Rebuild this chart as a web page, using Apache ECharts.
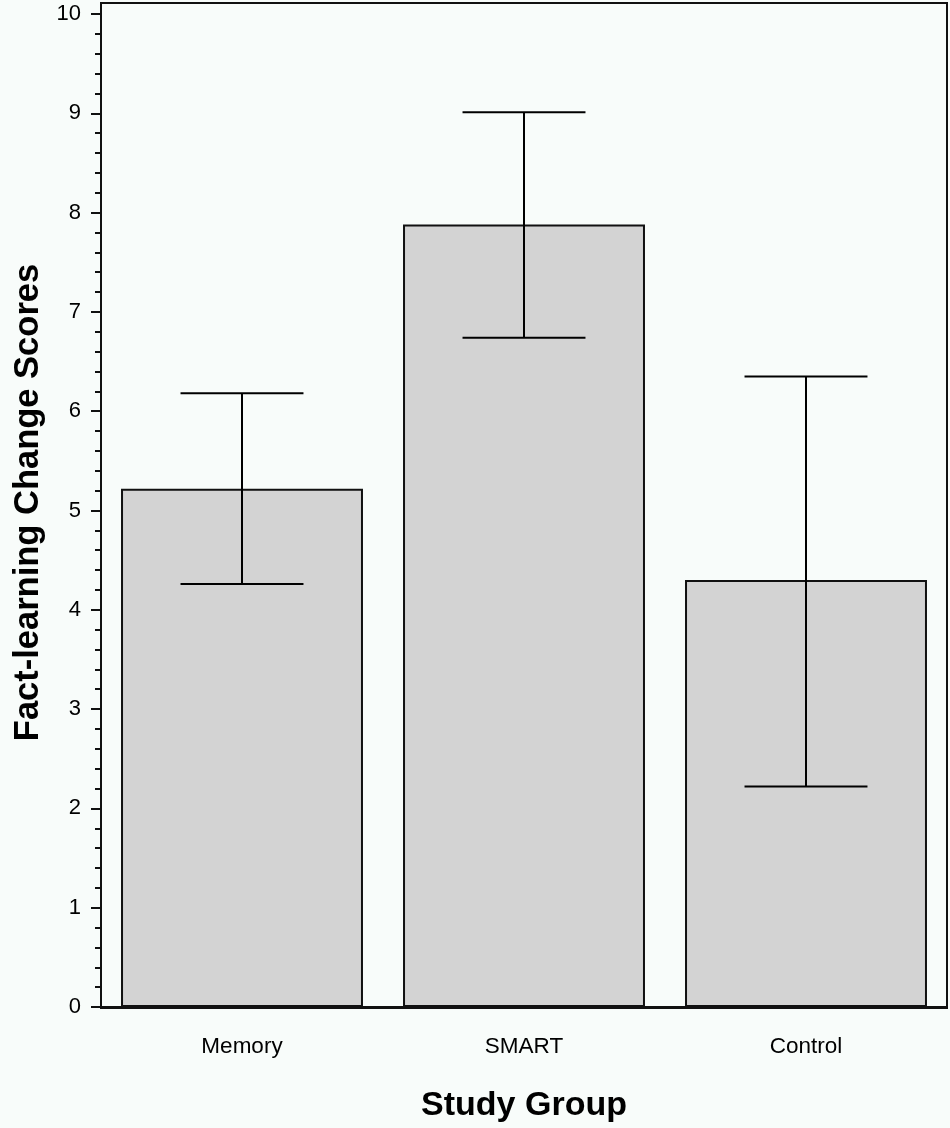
<!DOCTYPE html>
<html>
<head>
<meta charset="utf-8">
<script src="https://cdn.jsdelivr.net/npm/echarts@6/dist/echarts.min.js"></script>
<style>
	html, body { margin: 0; padding: 0; background: #f8fcfa; }
	#chartId { width: 950px; height: 1128px; }
</style>
</head>
<body>
<div id="chartId"></div>
<script>
// data
var groupNames = ["Memory", "SMART", "Control"];
var meanScores = [5.22, 7.88, 4.30];
var upperScores = [6.18, 9.01, 6.35];
var lowerScores = [4.26, 6.74, 2.22];
var yTickValues = [0, 1, 2, 3, 4, 5, 6, 7, 8, 9, 10];

var errData = [];
for(var i = 0; i < groupNames.length; i++) {
	errData.push([i, lowerScores[i], upperScores[i]]);
}

var myChart = echarts.init(document.getElementById("chartId"));

function renderErr(params, api) {
	var x = api.value(0);
	var lo = api.coord([x, api.value(1)]);
	var hi = api.coord([x, api.value(2)]);
	var halfW = api.size([1, 0])[0] * 0.218;
	var style = { stroke: '#000', lineWidth: 2 };
	return {
		type: 'group',
		children: [
			{ type: 'line', shape: { x1: hi[0], y1: hi[1], x2: lo[0], y2: lo[1] }, style: style },
			{ type: 'line', shape: { x1: hi[0] - halfW, y1: hi[1], x2: hi[0] + halfW, y2: hi[1] }, style: style },
			{ type: 'line', shape: { x1: lo[0] - halfW, y1: lo[1], x2: lo[0] + halfW, y2: lo[1] }, style: style }
		]
	};
}

var option = {
	backgroundColor: '#f8fcfa',
	animation: false,
	grid: [{
		// frame
		left: 101, right: 3, top: 3, bottom: 120,
		show: true,
		borderColor: '#111',
		borderWidth: 2
	}, {
		left: 101, right: 3, top: 14, bottom: 120
	}],
	xAxis: [{
		gridIndex: 0, type: 'value', show: false, min: 0, max: 1
	}, {
		gridIndex: 1,
		type: 'category',
		data: groupNames,
		name: 'Study Group',
		nameLocation: 'middle',
		nameGap: 82,
		nameTextStyle: { fontFamily: 'Liberation Sans', fontWeight: 'bold', fontSize: 34, color: '#000' },
		axisLine: { show: true, lineStyle: { color: '#111', width: 2 } },
		axisTick: { show: false },
		axisLabel: { margin: 28, fontFamily: 'Liberation Sans', fontSize: 22.5, color: '#000' }
	}],
	yAxis: [{
		gridIndex: 0, type: 'value', show: false, min: 0, max: 1
	}, {
		gridIndex: 1,
		type: 'value',
		min: 0,
		max: 10,
		interval: 1,
		name: 'Fact-learning Change Scores',
		nameLocation: 'middle',
		nameGap: 47,
		nameTextStyle: { fontFamily: 'Liberation Sans', fontWeight: 'bold', fontSize: 34.5, color: '#000', padding: [0, 0, 0, 16] },
		axisLine: { show: true, lineStyle: { color: '#111', width: 2 } },
		axisTick: { show: true, inside: false, length: 10, lineStyle: { color: '#111', width: 2 }, customValues: yTickValues },
		minorTick: { show: true, splitNumber: 5, length: 6, lineStyle: { color: '#111', width: 2 } },
		axisLabel: { margin: 20, fontFamily: 'Liberation Sans', fontSize: 22, color: '#000', customValues: yTickValues },
		splitLine: { show: false }
	}],
	series: [{
		type: 'bar',
		xAxisIndex: 1,
		yAxisIndex: 1,
		data: meanScores,
		barCategoryGap: '14.2%',
		itemStyle: { color: '#d3d3d3', borderColor: '#111', borderWidth: 2 }
	}, {
		type: 'custom',
		xAxisIndex: 1,
		yAxisIndex: 1,
		data: errData,
		renderItem: renderErr,
		z: 3
	}]
};
myChart.setOption(option);
</script>
</body>
</html>
